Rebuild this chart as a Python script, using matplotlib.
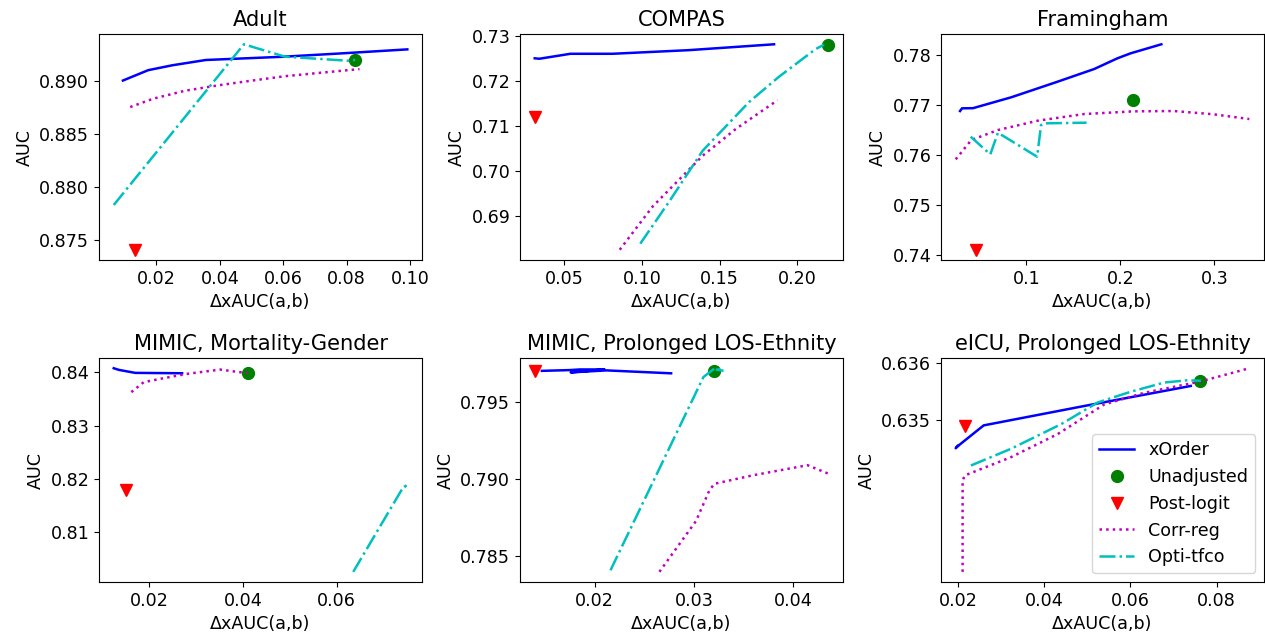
import matplotlib
matplotlib.use("Agg")
import matplotlib.pyplot as plt

plt.rcParams['font.family'] = ['DejaVu Sans']
plt.rcParams['font.size'] = 12.6

titles = ["Adult", "COMPAS", "Framingham",
          "MIMIC, Mortality-Gender", "MIMIC, Prolonged LOS-Ethnity",
          "eICU, Prolonged LOS-Ethnity"]
series_labels = ["xOrder", "Unadjusted", "Post-logit", "Corr-reg", "Opti-tfco"]

# ---------------- Adult ----------------
adult_xorder_x = [0.0094, 0.0174, 0.0250, 0.0356, 0.0596, 0.0800, 0.0992]
adult_xorder_y = [0.89006, 0.89104, 0.89150, 0.89200, 0.89230, 0.89265, 0.89300]
adult_unadj_x = [0.0827]
adult_unadj_y = [0.8920]
adult_post_x = [0.0132]
adult_post_y = [0.8741]
adult_corr_x = [0.0117, 0.0190, 0.0290, 0.0398, 0.0500, 0.0606, 0.0720, 0.0841]
adult_corr_y = [0.88756, 0.88835, 0.88910, 0.88962, 0.89005, 0.89047, 0.89080, 0.89114]
adult_opti_x = [0.0065, 0.0476, 0.0606, 0.0804, 0.0827]
adult_opti_y = [0.87832, 0.89348, 0.89231, 0.89193, 0.89200]

# ---------------- COMPAS ----------------
compas_xorder_x = [0.031, 0.034, 0.054, 0.081, 0.130, 0.185]
compas_xorder_y = [0.7250, 0.7249, 0.7260, 0.7260, 0.7268, 0.7281]
compas_unadj_x = [0.2199]
compas_unadj_y = [0.7280]
compas_post_x = [0.0312]
compas_post_y = [0.7120]
compas_corr_x = [0.0857, 0.1071, 0.1391, 0.1605, 0.1872]
compas_corr_y = [0.68264, 0.69230, 0.70346, 0.70940, 0.71572]
compas_opti_x = [0.0989, 0.1177, 0.1391, 0.1690, 0.1882, 0.2117, 0.2170]
compas_opti_y = [0.68398, 0.69340, 0.70457, 0.71535, 0.72093, 0.72703, 0.72800]

# ---------------- Framingham ----------------
fram_xorder_x = [0.0293, 0.0314, 0.0431, 0.0837, 0.1332, 0.1721, 0.1968, 0.2109, 0.2435]
fram_xorder_y = [0.76873, 0.76927, 0.76930, 0.77147, 0.77460, 0.77713, 0.77927, 0.78027, 0.78207]
fram_unadj_x = [0.2131]
fram_unadj_y = [0.77093]
fram_post_x = [0.0459]
fram_post_y = [0.7410]
fram_corr_x = [0.0247, 0.0413, 0.0696, 0.1120, 0.1615, 0.2145, 0.2569, 0.2993, 0.3371]
fram_corr_y = [0.75907, 0.76293, 0.76493, 0.76680, 0.76813, 0.76867, 0.76873, 0.76807, 0.76713]
fram_opti_x = [0.0406, 0.0615, 0.0696, 0.1113, 0.1155, 0.1191, 0.1640]
fram_opti_y = [0.76360, 0.76007, 0.76440, 0.75960, 0.76593, 0.76627, 0.76640]

# ---------------- MIMIC, Mortality-Gender ----------------
mort_xorder_x = [0.0124, 0.0135, 0.0170, 0.0270]
mort_xorder_y = [0.84075, 0.84044, 0.83988, 0.83981]
mort_unadj_x = [0.04117]
mort_unadj_y = [0.8399]
mort_post_x = [0.0151]
mort_post_y = [0.8179]
mort_corr_x = [0.01616, 0.01879, 0.02234, 0.02803, 0.03513, 0.03939, 0.0410]
mort_corr_y = [0.83627, 0.83813, 0.83876, 0.83969, 0.84050, 0.84000, 0.83990]
mort_opti_x = [0.06355, 0.07400, 0.07510, 0.07440]
mort_opti_y = [0.80254, 0.81810, 0.81890, 0.81850]

# ---------------- MIMIC, Prolonged LOS-Ethnity ----------------
los_xorder_x = [0.0147, 0.0175, 0.0185, 0.0210, 0.0176, 0.0212, 0.0277]
los_xorder_y = [0.79703, 0.79708, 0.79712, 0.79712, 0.79693, 0.79706, 0.79687]
los_unadj_x = [0.03197]
los_unadj_y = [0.79703]
los_post_x = [0.01398]
los_post_y = [0.79705]
los_corr_x = [0.02652, 0.0302, 0.03154, 0.03204, 0.0359, 0.04142, 0.04351]
los_corr_y = [0.78397, 0.78727, 0.78925, 0.78969, 0.79024, 0.79090, 0.79035]
los_opti_x = [0.0216, 0.03095, 0.0321, 0.0330, 0.0322]
los_opti_y = [0.78407, 0.79663, 0.79720, 0.79703, 0.79712]

# ---------------- eICU, Prolonged LOS-Ethnity ----------------
eicu_xorder_x = [0.0199, 0.0194, 0.0196, 0.0259, 0.0500, 0.0740]
eicu_xorder_y = [0.63455, 0.63451, 0.63453, 0.63491, 0.63526, 0.63560]
eicu_unadj_x = [0.0762]
eicu_unadj_y = [0.635694]
eicu_post_x = [0.02155]
eicu_post_y = [0.634902]
eicu_corr_x = [0.0210, 0.0210, 0.02155, 0.03223, 0.04307, 0.05391, 0.0632, 0.07636, 0.0876]
eicu_corr_y = [0.632347, 0.633948, 0.634035, 0.634353, 0.634757, 0.635277, 0.635480, 0.635680, 0.635910]
eicu_opti_x = [0.02294, 0.03223, 0.04385, 0.05236, 0.06011, 0.06785, 0.07327, 0.07636]
eicu_opti_y = [0.634208, 0.634500, 0.634930, 0.635310, 0.635500, 0.635660, 0.635700, 0.635690]

# ticks
xticks_list = [[0.02, 0.04, 0.06, 0.08, 0.10],
               [0.05, 0.10, 0.15, 0.20],
               [0.1, 0.2, 0.3],
               [0.02, 0.04, 0.06],
               [0.02, 0.03, 0.04],
               [0.02, 0.04, 0.06, 0.08]]
yticks_list = [[0.875, 0.880, 0.885, 0.890],
               [0.69, 0.70, 0.71, 0.72, 0.73],
               [0.74, 0.75, 0.76, 0.77, 0.78],
               [0.81, 0.82, 0.83, 0.84],
               [0.785, 0.790, 0.795],
               [0.635, 0.636]]

panels = [
    (adult_xorder_x, adult_xorder_y, adult_unadj_x, adult_unadj_y, adult_post_x, adult_post_y,
     adult_corr_x, adult_corr_y, adult_opti_x, adult_opti_y),
    (compas_xorder_x, compas_xorder_y, compas_unadj_x, compas_unadj_y, compas_post_x, compas_post_y,
     compas_corr_x, compas_corr_y, compas_opti_x, compas_opti_y),
    (fram_xorder_x, fram_xorder_y, fram_unadj_x, fram_unadj_y, fram_post_x, fram_post_y,
     fram_corr_x, fram_corr_y, fram_opti_x, fram_opti_y),
    (mort_xorder_x, mort_xorder_y, mort_unadj_x, mort_unadj_y, mort_post_x, mort_post_y,
     mort_corr_x, mort_corr_y, mort_opti_x, mort_opti_y),
    (los_xorder_x, los_xorder_y, los_unadj_x, los_unadj_y, los_post_x, los_post_y,
     los_corr_x, los_corr_y, los_opti_x, los_opti_y),
    (eicu_xorder_x, eicu_xorder_y, eicu_unadj_x, eicu_unadj_y, eicu_post_x, eicu_post_y,
     eicu_corr_x, eicu_corr_y, eicu_opti_x, eicu_opti_y),
]

fig = plt.figure(figsize=(12.65, 6.37), dpi=100)
lefts = [0.0783, 0.4111, 0.7439]
bottoms = [0.5918, 0.0863]
w = 0.2553
heights = [0.3548, 0.3516]

for i, p in enumerate(panels):
    r, c = divmod(i, 3)
    ax = fig.add_axes([lefts[c], bottoms[r], w, heights[r]])
    xo_x, xo_y, un_x, un_y, po_x, po_y, co_x, co_y, op_x, op_y = p
    ax.plot(xo_x, xo_y, '-', color='b', lw=1.8, label=series_labels[0])
    ax.plot(un_x, un_y, 'o', color='g', ms=8.5, label=series_labels[1])
    ax.plot(po_x, po_y, 'v', color='r', ms=8.5, label=series_labels[2])
    ax.plot(co_x, co_y, ':', color='m', lw=1.8, label=series_labels[3])
    ax.plot(op_x, op_y, '-.', color='c', lw=1.8, label=series_labels[4])
    ax.set_xticks(xticks_list[i])
    ax.set_yticks(yticks_list[i])
    ax.set_title(titles[i], fontsize=15.1)
    ax.set_xlabel("ΔxAUC(a,b)")
    ax.set_ylabel("AUC")
    if i == 5:
        ax.legend(loc='lower right', numpoints=1)

fig.savefig("out.png", dpi=100)
